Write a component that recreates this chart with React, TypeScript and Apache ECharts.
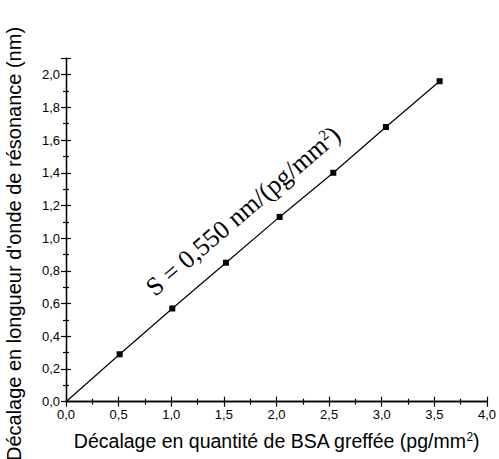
import React, { useEffect, useRef } from "react";
import * as echarts from "echarts";

const xValues = [0.51, 1.01, 1.52, 2.03, 2.54, 3.04, 3.55];
const yValues = [0.29, 0.57, 0.85, 1.13, 1.4, 1.68, 1.96];
const origin = [0, 0];
const xAxisTitle = "Décalage en quantité de BSA greffée (pg/mm";
const yAxisTitle = "Décalage en longueur d'onde de résonance (nm)";
const slopeText = "S = 0,550 nm/(pg/mm";

const fmt = (v: number) => v.toFixed(1).replace(".", ",");

export default function App() {
  const ref = useRef<HTMLDivElement>(null);
  useEffect(() => {
    if (!ref.current) return;
    const chart = echarts.init(ref.current, null, { renderer: "svg" });
    const pts: any[] = [{ value: origin, symbol: "none" }];
    xValues.forEach((x, i) => pts.push([x, yValues[i]]));
    const axisCommon = {
      axisLine: { show: true, lineStyle: { color: "#000", width: 1.3 } },
      axisTick: { show: true, inside: true, length: 5, lineStyle: { color: "#000", width: 1.2 } },
      minorTick: { show: true, splitNumber: 2, length: 3, lineStyle: { color: "#000", width: 1.2 } },
      splitLine: { show: false },
    };
    chart.setOption({
      animation: false,
      backgroundColor: "#fff",
      grid: { left: 66, right: 8.3, top: 58.3, bottom: 57.3, containLabel: false },
      xAxis: [
        {
          type: "value",
          min: 0,
          max: 4,
          interval: 0.5,
          ...axisCommon,
          axisLabel: {
            formatter: fmt,
            color: "#000",
            fontFamily: "Liberation Sans",
            fontSize: 13,
            margin: 6,
          },
          name: xAxisTitle + "{sup|2})",
          nameLocation: "middle",
          nameGap: 29,
          nameTextStyle: {
            color: "#000",
            fontFamily: "Liberation Sans",
            fontSize: 19.5,
            rich: {
              sup: { fontSize: 12, verticalAlign: "top", padding: [0, 0, 9, 0], color: "#000", fontFamily: "Liberation Sans" },
            },
          },
        },
        {
          type: "value",
          position: "top",
          min: 0,
          max: 4,
          interval: 0.5,
          ...axisCommon,
          axisLabel: { show: false },
        },
      ],
      yAxis: [
        {
          type: "value",
          min: 0,
          max: 2.1,
          interval: 0.2,
          ...axisCommon,
          axisLabel: {
            formatter: fmt,
            showMaxLabel: false,
            color: "#000",
            fontFamily: "Liberation Sans",
            fontSize: 13,
            margin: 6,
          },
        },
        {
          type: "value",
          position: "right",
          min: 0,
          max: 2.1,
          interval: 0.2,
          ...axisCommon,
          axisLabel: { show: false },
        },
      ],
      graphic: [
        {
          type: "text",
          x: 14,
          y: 244,
          rotation: Math.PI / 2,
          style: {
            text: yAxisTitle,
            fill: "#000",
            font: "20px 'Liberation Sans'",
            align: "center",
            verticalAlign: "middle",
          },
        },
        {
          type: "text",
          x: 243,
          y: 211,
          rotation: (40.5 * Math.PI) / 180,
          style: {
            text: slopeText + "{sup|2})",
            fill: "#000",
            font: "26px 'Liberation Serif'",
            align: "center",
            verticalAlign: "middle",
            rich: {
              sup: { font: "15px 'Liberation Serif'", fill: "#000", verticalAlign: "top", padding: [0, 0, 11, 0] },
            },
          },
        },
      ],
      series: [
        {
          type: "line",
          data: pts,
          symbol: "rect",
          symbolSize: 6,
          lineStyle: { color: "#000", width: 1.2 },
          itemStyle: { color: "#000" },
          showSymbol: true,
        },
      ],
    });
    return () => chart.dispose();
  }, []);
  return <div ref={ref} style={{ position: "absolute", left: 0, top: 0, width: 499, height: 459 }} />;
}
